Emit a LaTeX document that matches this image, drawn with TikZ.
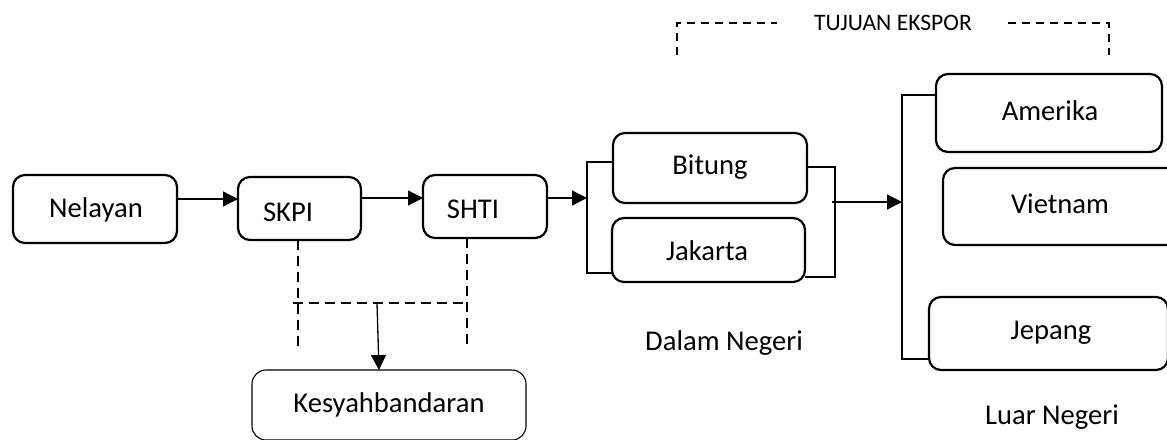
\documentclass[tikz,border=0pt]{standalone}
\usepackage{fontspec}
\setmainfont{Carlito}
\usetikzlibrary{arrows.meta}
\begin{document}
\begin{tikzpicture}[x=0.5pt,y=-0.5pt,
  box/.style={draw, line width=1.1pt, rounded corners=6pt, inner sep=0pt, outer sep=0pt},
  thinbox/.style={draw, line width=0.55pt, rounded corners=7pt, inner sep=0pt, outer sep=0pt},
  lbl/.style={inner sep=0pt, font=\fontsize{14.3pt}{16pt}\selectfont},
  brk/.style={draw, line width=0.6pt},
  arr/.style={line width=0.65pt, -{Triangle[length=7.5pt,width=7.5pt]}},
  dsh/.style={line width=0.65pt, dash pattern=on 5pt off 3pt},
  dsht/.style={line width=0.65pt, dash pattern=on 4pt off 3pt}]
\useasboundingbox (0,0) rectangle (1167,439);
\clip (0,0) rectangle (1167,439);

% boxes
\node[box, minimum width=82pt, minimum height=34pt] (nel) at (95,209) {};
\node[box, minimum width=61.5pt, minimum height=31.5pt] (skpi) at (299.5,208.5) {};
\node[box, minimum width=62pt, minimum height=31.5pt] (shti) at (485,206.5) {};
\node[box, minimum width=97pt, minimum height=35pt] (bit) at (710,168) {};
\node[box, minimum width=96.5pt, minimum height=32pt] (jak) at (708.5,250) {};
\node[box, minimum width=113pt, minimum height=39pt] (ame) at (1049,113) {};
\node[box, minimum width=118.5pt, minimum height=38.5pt] (vie) at (1061.5,206.5) {};
\node[box, minimum width=119.5pt, minimum height=36.5pt] (jep) at (1048.5,333.5) {};
\node[thinbox, minimum width=137pt, minimum height=35pt] (kes) at (389,405) {};

% texts
\node[lbl] (tnel) at (96,210) {Nelayan};
\node[lbl] (tskpi) at (288,212) {SKPI};
\node[lbl] (tshti) at (473,209) {SHTI};
\node[lbl] (tbit) at (710,167) {Bitung};
\node[lbl] (tjak) at (707,251) {Jakarta};
\node[lbl] (tame) at (1050,111) {Amerika};
\node[lbl] (tvie) at (1060,204) {Vietnam};
\node[lbl] (tjep) at (1051,333) {Jepang};
\node[lbl] (tkes) at (389,405) {Kesyahbandaran};
\node[lbl] (tdn) at (724,343) {Dalam Negeri};
\node[lbl] (tln) at (1052,417) {Luar Negeri};
\node[inner sep=0pt, font=\fontsize{11.8pt}{13pt}\selectfont] (tte) at (893,23) {TUJUAN EKSPOR};

% brackets
\coordinate (lbt) at (587,162);
\coordinate (lbb) at (587,273);
\coordinate (lbm) at (587,198);
\draw[brk] (bit.west |- lbt) -- (lbt) -- (lbb) -- (jak.west |- lbb);
\coordinate (rbt) at (835,167);
\coordinate (rbb) at (835,277);
\coordinate (rbm) at (832,202);
\draw[brk] (bit.east |- rbt) -- (rbt) -- (rbb) -- (jak.east |- rbb);
\coordinate (bbt) at (902,95);
\coordinate (bbb) at (902,359);
\coordinate (bbm) at (902,202);
\draw[brk] (ame.west |- bbt) -- (bbt) -- (bbb) -- (jep.west |- bbb);

% arrows
\draw[arr] ([yshift=5pt]nel.east) -- ([yshift=4.75pt]skpi.west);
\coordinate (a2) at (0,198);
\draw[arr] (skpi.east |- a2) -- (shti.west |- a2);
\draw[arr] (shti.east |- lbm) -- (lbm);
\draw[arr] (rbm) -- (bbm);

% dashed links to Kesyahbandaran
\coordinate (d1) at (298,347);
\coordinate (d2) at (467,347);
\coordinate (h1) at (293,303);
\coordinate (h2) at (468,303);
\coordinate (hm) at (377,303);
\coordinate (ke) at (379,303);
\draw[dsh] (skpi.south -| d1) -- (d1);
\draw[dsh] (shti.south -| d2) -- (d2);
\draw[dsh] (h1) -- (h2);
\draw[arr] (hm) -- (kes.north -| ke);

% top dashed bracket
\coordinate (t1) at (677,55);
\coordinate (t2) at (677,23);
\coordinate (t3) at (777,23);
\coordinate (t4) at (1008,23);
\coordinate (t5) at (1109,23);
\coordinate (t6) at (1109,55);
\draw[dsht] (t1) -- (t2) -- (t3);
\draw[dsht] (t4) -- (t5) -- (t6);
\end{tikzpicture}
\end{document}
